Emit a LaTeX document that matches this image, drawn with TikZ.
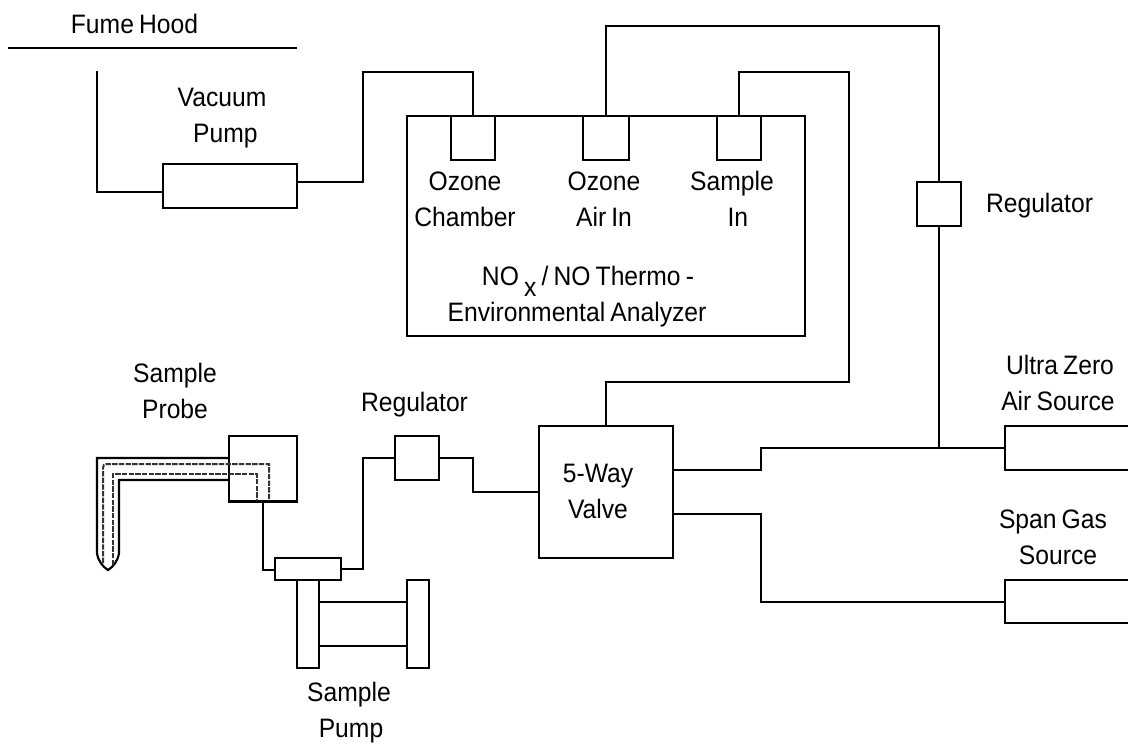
\documentclass[tikz,border=0pt]{standalone}
\usepackage{fontspec}
\setmainfont[FakeStretch=0.925,WordSpace=0.75]{Liberation Sans}
\newcommand{\rbox}[5]{%
  \pgfmathsetmacro{\rw}{(#4-#2)*0.75}\pgfmathsetmacro{\rh}{(#5-#3)*0.75}%
  \node[blockbox,minimum width=\rw pt,minimum height=\rh pt] (#1) at ({(#2+#4)/2},{(#3+#5)/2}) {};}
\newcommand{\ghostbox}[5]{%
  \pgfmathsetmacro{\rw}{(#4-#2)*0.75}\pgfmathsetmacro{\rh}{(#5-#3)*0.75}%
  \node[blockbox,draw=none,minimum width=\rw pt,minimum height=\rh pt] (#1) at ({(#2+#4)/2},{(#3+#5)/2}) {};}
\tikzset{
  blockbox/.style={draw=black,line width=1.6pt,inner sep=0pt,outer sep=0pt},
  pipe/.style={draw=black,line width=1.6pt,line join=miter},
  dashpipe/.style={draw=black!80,line width=1.5pt,dash pattern=on 4pt off 1pt},
  lbl/.style={inner sep=0pt,outer sep=0pt,align=center,font=\fontsize{20}{27}\selectfont},
}
\begin{document}
\begin{tikzpicture}[x=0.75pt,y=-0.75pt]
\useasboundingbox (0,0) rectangle (1128,745);
% boxes
\rbox{vacpump}{163}{164}{297}{208}
\rbox{analyzer}{407}{116}{805}{336}
\rbox{portA}{451}{116}{495}{160}
\rbox{portB}{583}{116}{629}{160}
\rbox{portC}{717}{116}{761}{160}
\rbox{regA}{917}{182}{961}{226}
\rbox{valve}{539}{426}{673}{558}
\rbox{regB}{395}{436}{439}{480}
\rbox{probebox}{229}{436}{297}{501.5}
\rbox{tee}{275}{558}{341}{580}
\rbox{pumpL}{297}{580}{319}{668}
\rbox{pumpR}{407}{580}{429}{668}
\ghostbox{zero}{1005}{426}{1128}{470}
\ghostbox{span}{1005}{580}{1128}{623}
\draw[pipe] (zero.north east) -- (zero.north west) -- (zero.south west) -- (zero.south east);
\draw[pipe] (span.north east) -- (span.north west) -- (span.south west) -- (span.south east);
% fume hood
\coordinate (hoodL) at (8,48);
\coordinate (hoodR) at (297,48);
\coordinate (hoodDrop) at (97,71);
\draw[pipe] (hoodL) -- (hoodR);
\draw[pipe] (hoodDrop) |- (vacpump.west |- 0,192);
% vacuum pump to ozone chamber
\draw[pipe] (vacpump.east |- 0,182) -- (363,182) -- (363,72) -- (473,72) -- (portA.north);
% ozone air in to regulator to source
\draw[pipe] (portB.north) -- (606,26) -- (939,26) -- (regA.north);
\draw[pipe] (regA.south) -- (939,448);
% sample in to valve
\draw[pipe] (portC.north) -- (739,72) -- (849,72) -- (849,382) -- (606,382) -- (valve.north);
% valve to sources
\draw[pipe] (valve.east |- 0,470) -- (761,470) -- (761,448) -- (zero.west |- 0,448);
\draw[pipe] (valve.east |- 0,514) -- (761,514) -- (761,602) -- (span.west |- 0,602);
% regulator to valve
\draw[pipe] (regB.east) -- (473,458) -- (473,492) -- (valve.west);
\draw[pipe] (tee.east) -- (363,569) -- (363,458) -- (regB.west);
% probe to tee
\draw[pipe] (probebox.south -| 263,0) -- (263,570) -- (tee.west |- 0,570);
% pump rods
\draw[pipe] (pumpL.east |- 0,602) -- (pumpR.west |- 0,602);
\draw[pipe] (pumpL.east |- 0,646) -- (pumpR.west |- 0,646);
% sample probe
\draw[pipe] (probebox.west |- 0,458) -- (97,458) -- (97,553) .. controls (98,561) and (103,567) .. (108,570) .. controls (113,567) and (118,561) .. (119,553) -- (119,480) -- (probebox.west |- 0,480);
\draw[dashpipe] (103,563) -- (103,468) .. controls (103,465) and (104,464) .. (107,464) -- (269,464) -- (269,501);
\draw[dashpipe] (113,565) -- (113,474) -- (257,474) -- (257,501);
% labels
\node[lbl] (tHood) at (134.5,24) {Fume Hood};
\node[lbl] (tVac) at (222,118) {Vacuum\\\hspace*{5pt}Pump};
\node[lbl] (tChamber) at (465,199) {Ozone\\Chamber};
\node[lbl] (tAir) at (604,199) {Ozone\\Air In};
\node[lbl] (tSample) at (732,199) {Sample\\\hspace*{8.7pt}In};
\node[lbl] (tNox) at (577,297) {\hspace*{16.5pt}NO \raisebox{-8pt}{x} / NO Thermo -\\Environmental Analyzer};
\node[lbl] (tRegA) at (1039.5,206) {Regulator};
\node[lbl] (tRegB) at (414.5,405) {Regulator};
\node[lbl] (tProbe) at (175,391) {Sample\\Probe};
\node[lbl] (tValve) at (598,491) {5-Way\\Valve};
\node[lbl] (tZero) at (1058,383) {\hspace*{3pt}Ultra Zero\\Air Source};
\node[lbl] (tSpan) at (1053,537) {Span Gas\\\hspace*{7.5pt}Source};
\node[lbl] (tPump) at (349,713) {Sample\\\hspace*{3pt}Pump};
\end{tikzpicture}
\end{document}
